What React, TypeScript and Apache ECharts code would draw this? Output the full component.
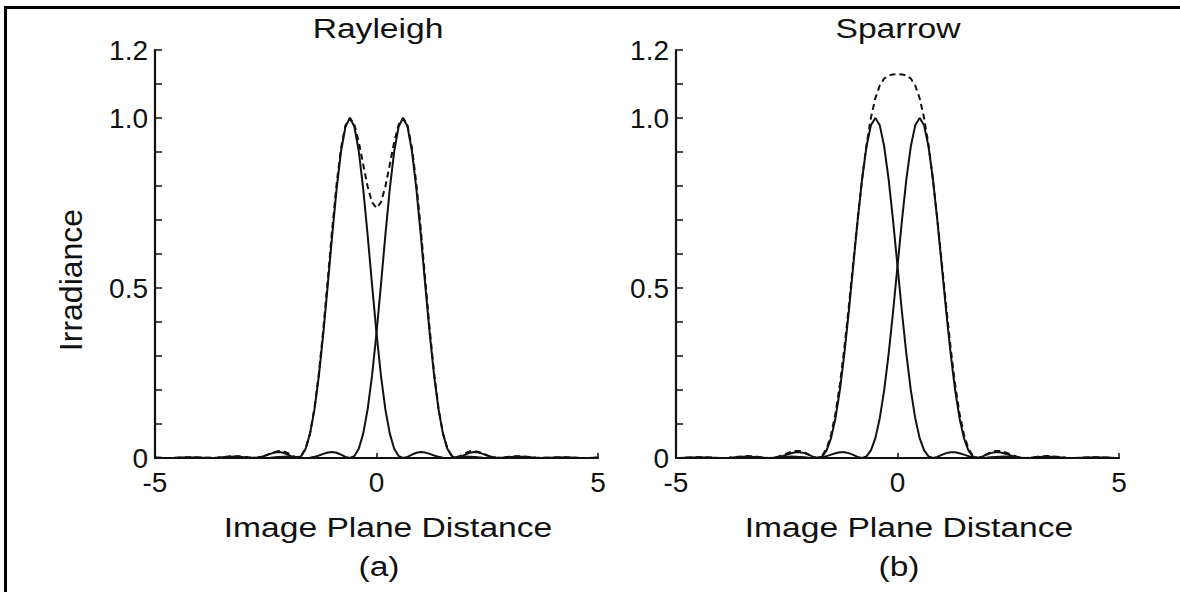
import React, { useEffect, useRef } from 'react';
import * as echarts from 'echarts';

// Sample positions along the image plane (x axis units)
const X_VALUES = [
  -5.0, -4.9, -4.8, -4.7, -4.6, -4.5, -4.4, -4.3, -4.2, -4.1,
  -4.0, -3.9, -3.8, -3.7, -3.6, -3.5, -3.4, -3.3, -3.2, -3.1,
  -3.0, -2.9, -2.8, -2.7, -2.6, -2.5, -2.4, -2.3, -2.2, -2.1,
  -2.0, -1.9, -1.8, -1.7, -1.6, -1.5, -1.4, -1.3, -1.2, -1.1,
  -1.0, -0.9, -0.8, -0.7, -0.6, -0.5, -0.4, -0.3, -0.2, -0.1,
  0.0, 0.1, 0.2, 0.3, 0.4, 0.5, 0.6, 0.7, 0.8, 0.9,
  1.0, 1.1, 1.2, 1.3, 1.4, 1.5, 1.6, 1.7, 1.8, 1.9,
  2.0, 2.1, 2.2, 2.3, 2.4, 2.5, 2.6, 2.7, 2.8, 2.9,
  3.0, 3.1, 3.2, 3.3, 3.4, 3.5, 3.6, 3.7, 3.8, 3.9,
  4.0, 4.1, 4.2, 4.3, 4.4, 4.5, 4.6, 4.7, 4.8, 4.9,
  5.0,
];

// (a) Rayleigh
const RAYLEIGH_LEFT = [
  0.0004, 0.0002, 0, 0.0001, 0.0003, 0.0008, 0.0012, 0.0015, 0.0016, 0.0013,
  0.0008, 0.0003, 0, 0.0002, 0.0009, 0.0020, 0.0032, 0.0040, 0.0041, 0.0034,
  0.0020, 0.0007, 0, 0.0008, 0.0034, 0.0075, 0.0122, 0.0160, 0.0174, 0.0153,
  0.0099, 0.0034, 0, 0.0057, 0.0274, 0.0717, 0.1431, 0.2428, 0.3675, 0.5091,
  0.6553, 0.7914, 0.9023, 0.9748, 1.0000, 0.9748, 0.9023, 0.7914, 0.6553, 0.5091,
  0.3675, 0.2428, 0.1431, 0.0717, 0.0274, 0.0057, 0, 0.0034, 0.0099, 0.0153,
  0.0174, 0.0160, 0.0122, 0.0075, 0.0034, 0.0008, 0, 0.0007, 0.0020, 0.0034,
  0.0041, 0.0040, 0.0032, 0.0020, 0.0009, 0.0002, 0, 0.0003, 0.0008, 0.0013,
  0.0016, 0.0015, 0.0012, 0.0008, 0.0003, 0.0001, 0, 0.0002, 0.0004, 0.0006,
  0.0008, 0.0007, 0.0006, 0.0004, 0.0001, 0, 0, 0.0001, 0.0002, 0.0004,
  0.0004,
];
const RAYLEIGH_RIGHT = [
  0.0004, 0.0004, 0.0002, 0.0001, 0, 0, 0.0001, 0.0004, 0.0006, 0.0007,
  0.0008, 0.0006, 0.0004, 0.0002, 0, 0.0001, 0.0003, 0.0008, 0.0012, 0.0015,
  0.0016, 0.0013, 0.0008, 0.0003, 0, 0.0002, 0.0009, 0.0020, 0.0032, 0.0040,
  0.0041, 0.0034, 0.0020, 0.0007, 0, 0.0008, 0.0034, 0.0075, 0.0122, 0.0160,
  0.0174, 0.0153, 0.0099, 0.0034, 0, 0.0057, 0.0274, 0.0717, 0.1431, 0.2428,
  0.3675, 0.5091, 0.6553, 0.7914, 0.9023, 0.9748, 1.0000, 0.9748, 0.9023, 0.7914,
  0.6553, 0.5091, 0.3675, 0.2428, 0.1431, 0.0717, 0.0274, 0.0057, 0, 0.0034,
  0.0099, 0.0153, 0.0174, 0.0160, 0.0122, 0.0075, 0.0034, 0.0008, 0, 0.0007,
  0.0020, 0.0034, 0.0041, 0.0040, 0.0032, 0.0020, 0.0009, 0.0002, 0, 0.0003,
  0.0008, 0.0013, 0.0016, 0.0015, 0.0012, 0.0008, 0.0003, 0.0001, 0, 0.0002,
  0.0004,
];
const RAYLEIGH_SUM = [
  0.0008, 0.0006, 0.0002, 0.0002, 0.0003, 0.0008, 0.0013, 0.0019, 0.0022, 0.0020,
  0.0016, 0.0009, 0.0004, 0.0004, 0.0009, 0.0021, 0.0035, 0.0048, 0.0053, 0.0049,
  0.0036, 0.0020, 0.0008, 0.0011, 0.0034, 0.0077, 0.0131, 0.0180, 0.0206, 0.0193,
  0.0140, 0.0068, 0.0020, 0.0064, 0.0274, 0.0725, 0.1465, 0.2503, 0.3797, 0.5251,
  0.6727, 0.8067, 0.9122, 0.9782, 1.0000, 0.9805, 0.9297, 0.8631, 0.7984, 0.7519,
  0.7350,
  0.7519, 0.7984, 0.8631, 0.9297, 0.9805, 1.0000, 0.9782, 0.9122, 0.8067, 0.6727,
  0.5251, 0.3797, 0.2503, 0.1465, 0.0725, 0.0274, 0.0064, 0.0020, 0.0068, 0.0140,
  0.0193, 0.0206, 0.0180, 0.0131, 0.0077, 0.0034, 0.0011, 0.0008, 0.0020, 0.0036,
  0.0049, 0.0053, 0.0048, 0.0035, 0.0021, 0.0009, 0.0004, 0.0004, 0.0009, 0.0016,
  0.0020, 0.0022, 0.0019, 0.0013, 0.0008, 0.0003, 0.0002, 0.0002, 0.0006, 0.0008,
];

// (b) Sparrow
const SPARROW_LEFT = [
  0.0000, 0.0001, 0.0004, 0.0008, 0.0013, 0.0015, 0.0016, 0.0013, 0.0009, 0.0004,
  0.0001, 0.0000, 0.0005, 0.0013, 0.0024, 0.0034, 0.0041, 0.0040, 0.0033, 0.0021,
  0.0008, 0.0000, 0.0004, 0.0023, 0.0056, 0.0099, 0.0141, 0.0169, 0.0172, 0.0144,
  0.0091, 0.0031, 0.0000, 0.0046, 0.0223, 0.0584, 0.1171, 0.2001, 0.3060, 0.4302,
  0.5645, 0.6981, 0.8192, 0.9160, 0.9784, 1.0000, 0.9784, 0.9160, 0.8192, 0.6981,
  0.5645, 0.4302, 0.3060, 0.2001, 0.1171, 0.0584, 0.0223, 0.0046, 0.0000, 0.0031,
  0.0091, 0.0144, 0.0172, 0.0169, 0.0141, 0.0099, 0.0056, 0.0023, 0.0004, 0.0000,
  0.0008, 0.0021, 0.0033, 0.0040, 0.0041, 0.0034, 0.0024, 0.0013, 0.0005, 0.0000,
  0.0001, 0.0004, 0.0009, 0.0013, 0.0016, 0.0015, 0.0013, 0.0008, 0.0004, 0.0001,
  0.0000, 0.0001, 0.0003, 0.0005, 0.0007, 0.0008, 0.0007, 0.0006, 0.0004, 0.0002,
  0.0000,
];
const SPARROW_RIGHT = [
  0.0000, 0.0002, 0.0004, 0.0006, 0.0007, 0.0008, 0.0007, 0.0005, 0.0003, 0.0001,
  0.0000, 0.0001, 0.0004, 0.0008, 0.0013, 0.0015, 0.0016, 0.0013, 0.0009, 0.0004,
  0.0001, 0.0000, 0.0005, 0.0013, 0.0024, 0.0034, 0.0041, 0.0040, 0.0033, 0.0021,
  0.0008, 0.0000, 0.0004, 0.0023, 0.0056, 0.0099, 0.0141, 0.0169, 0.0172, 0.0144,
  0.0091, 0.0031, 0.0000, 0.0046, 0.0223, 0.0584, 0.1171, 0.2001, 0.3060, 0.4302,
  0.5645, 0.6981, 0.8192, 0.9160, 0.9784, 1.0000, 0.9784, 0.9160, 0.8192, 0.6981,
  0.5645, 0.4302, 0.3060, 0.2001, 0.1171, 0.0584, 0.0223, 0.0046, 0.0000, 0.0031,
  0.0091, 0.0144, 0.0172, 0.0169, 0.0141, 0.0099, 0.0056, 0.0023, 0.0004, 0.0000,
  0.0008, 0.0021, 0.0033, 0.0040, 0.0041, 0.0034, 0.0024, 0.0013, 0.0005, 0.0000,
  0.0001, 0.0004, 0.0009, 0.0013, 0.0016, 0.0015, 0.0013, 0.0008, 0.0004, 0.0001,
  0.0000,
];
const SPARROW_SUM = [
  0.0000, 0.0003, 0.0008, 0.0014, 0.0020, 0.0023, 0.0023, 0.0018, 0.0012, 0.0005,
  0.0001, 0.0001, 0.0009, 0.0021, 0.0037, 0.0049, 0.0057, 0.0053, 0.0042, 0.0025,
  0.0009, 0.0000, 0.0009, 0.0036, 0.0080, 0.0133, 0.0182, 0.0209, 0.0205, 0.0165,
  0.0099, 0.0031, 0.0004, 0.0069, 0.0279, 0.0683, 0.1312, 0.2170, 0.3232, 0.4446,
  0.5736, 0.7012, 0.8192, 0.9206, 1.0007, 1.0584, 1.0955, 1.1161, 1.1252, 1.1283,
  1.1290,
  1.1283, 1.1252, 1.1161, 1.0955, 1.0584, 1.0007, 0.9206, 0.8192, 0.7012, 0.5736,
  0.4446, 0.3232, 0.2170, 0.1312, 0.0683, 0.0279, 0.0069, 0.0004, 0.0031, 0.0099,
  0.0165, 0.0205, 0.0209, 0.0182, 0.0133, 0.0080, 0.0036, 0.0009, 0.0000, 0.0009,
  0.0025, 0.0042, 0.0053, 0.0057, 0.0049, 0.0037, 0.0021, 0.0009, 0.0001, 0.0001,
  0.0005, 0.0012, 0.0018, 0.0023, 0.0023, 0.0020, 0.0014, 0.0008, 0.0003, 0.0000,
];

const PANEL_TITLES = ['Rayleigh', 'Sparrow'];
const PANEL_TAGS = ['(a)', '(b)'];
const X_AXIS_NAME = 'Image Plane Distance';
const Y_AXIS_NAME = 'Irradiance';
const Y_TICK_LABELS: Record<number, string> = { 0: '0', 5: '0.5', 10: '1.0', 12: '1.2' };

const FONT = '"Liberation Sans", Arial, Helvetica, sans-serif';
const INK = '#111111';

const GRID_TOP = 50;
const GRID_H = 408;
const GRID_W = 443;
const GRID_LEFTS = [155, 676];

function pairs(ys: number[]) {
  return X_VALUES.map((x, i) => [x, ys[i]]);
}

function label(text: string, x: number, y: number, size: number, scaleX = 1, rotation = 0) {
  return {
    type: 'text',
    x,
    y,
    scaleX,
    rotation,
    silent: true,
    style: {
      text,
      x: 0,
      y: 0,
      fill: INK,
      fontSize: size,
      fontFamily: FONT,
      textAlign: 'center',
      textVerticalAlign: 'middle',
      align: 'center',
      verticalAlign: 'middle',
    },
  };
}

export default function App() {
  const ref = useRef<HTMLDivElement>(null);

  useEffect(() => {
    if (!ref.current) return;
    const chart = echarts.init(ref.current, undefined, { renderer: 'svg' });

    const grids = GRID_LEFTS.map((left) => ({ left, top: GRID_TOP, width: GRID_W, height: GRID_H }));
    const xAxes = GRID_LEFTS.map((_, i) => ({
      type: 'value',
      gridIndex: i,
      min: -5,
      max: 5,
      interval: 5,
      axisLine: { show: true, onZero: false, lineStyle: { color: INK, width: 2.2 } },
      axisTick: { show: true, inside: true, length: 5, lineStyle: { color: INK, width: 1.5 } },
      axisLabel: {
        show: true,
        margin: 10,
        fontSize: 28,
        fontFamily: FONT,
        color: INK,
        showMinLabel: true,
        showMaxLabel: true,
      },
      splitLine: { show: false },
    }));
    const yAxes = GRID_LEFTS.map((_, i) => ({
      type: 'value',
      gridIndex: i,
      min: 0,
      max: 1.2,
      interval: 0.1,
      axisLine: { show: true, onZero: false, lineStyle: { color: INK, width: 2.2 } },
      axisTick: { show: true, inside: true, length: 7, lineStyle: { color: INK, width: 1.5 } },
      axisLabel: {
        show: true,
        margin: 7,
        fontSize: 28,
        fontFamily: FONT,
        color: INK,
        showMinLabel: true,
        showMaxLabel: true,
        formatter: (v: number) => Y_TICK_LABELS[Math.round(v * 10)] ?? '',
      },
      splitLine: { show: false },
    }));

    const panelData = [
      [RAYLEIGH_LEFT, RAYLEIGH_RIGHT, RAYLEIGH_SUM],
      [SPARROW_LEFT, SPARROW_RIGHT, SPARROW_SUM],
    ];
    const series: any[] = [];
    panelData.forEach(([l, r, s], i) => {
      [l, r].forEach((arr, k) => {
        series.push({
          type: 'line',
          name: `${PANEL_TITLES[i]}-${k}`,
          xAxisIndex: i,
          yAxisIndex: i,
          data: pairs(arr),
          showSymbol: false,
          symbol: 'none',
          lineStyle: { color: INK, width: 2 },
          z: 3,
        });
      });
      series.push({
        type: 'line',
        name: `${PANEL_TITLES[i]}-sum`,
        xAxisIndex: i,
        yAxisIndex: i,
        data: pairs(s),
        showSymbol: false,
        symbol: 'none',
        lineStyle: { color: INK, width: 2, type: [6, 4] },
        z: 4,
      });
    });

    const graphics: any[] = [
      {
        type: 'line',
        silent: true,
        shape: { x1: 5.5, y1: 592, x2: 5.5, y2: 7.5 },
        style: { stroke: '#000', lineWidth: 3 },
      },
      {
        type: 'line',
        silent: true,
        shape: { x1: 4, y1: 7.5, x2: 1180, y2: 7.5 },
        style: { stroke: '#000', lineWidth: 3 },
      },
      label(PANEL_TITLES[0], 378, 28, 28, 1.2),
      label(PANEL_TITLES[1], 898, 28, 28, 1.2),
      label(X_AXIS_NAME, 388, 527, 28, 1.2),
      label(X_AXIS_NAME, 909, 527, 28, 1.2),
      label(PANEL_TAGS[0], 379, 566, 28, 1.2),
      label(PANEL_TAGS[1], 899, 566, 28, 1.2),
      label(Y_AXIS_NAME, 71, 280, 32, 1, Math.PI / 2),
    ];

    chart.setOption({
      animation: false,
      backgroundColor: '#ffffff',
      grid: grids,
      xAxis: xAxes,
      yAxis: yAxes,
      series,
      graphic: { elements: graphics },
    });

    return () => chart.dispose();
  }, []);

  return (
    <div
      ref={ref}
      style={{ position: 'fixed', left: 0, top: 0, width: 1180, height: 592, background: '#fff' }}
    />
  );
}
